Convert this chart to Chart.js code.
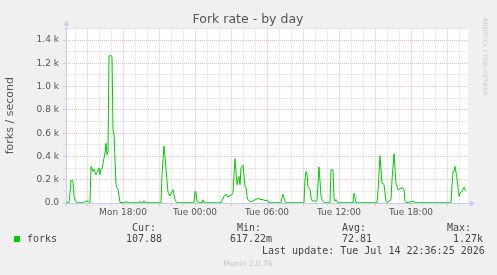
<!DOCTYPE html>
<html>
<head>
<meta charset="utf-8">
<script src="https://cdn.jsdelivr.net/npm/chart.js@4"></script>
<style>
  html, body { margin: 0; padding: 0; background: #f0f0f0; }
  #wrap { width: 497px; height: 275px; }
</style>
</head>
<body>
<div id="wrap"><canvas id="forkChart" width="497" height="275"></canvas></div>
<script>
// sample times: minutes since Mon 00:00, values: forks per second
const times = [
  795, 810, 815, 820, 830, 835, 840, 850, 885, 890, 905, 910, 915,
  920, 930, 935, 945, 950, 960, 965, 970, 975, 980, 990, 995, 1000, 1005, 1010, 1020, 1025, 1030, 1035, 1045, 1050, 1055, 1065,
  1090, 1095, 1100, 1160, 1165, 1170, 1180, 1185, 1190,
  1270, 1275, 1285, 1290, 1300, 1305, 1315, 1320, 1330, 1340, 1350,
  1435, 1440, 1445, 1450, 1475, 1480, 1485,
  1570, 1575, 1585, 1595, 1605, 1615, 1620, 1625, 1630, 1640, 1650, 1655, 1660, 1665, 1670, 1680, 1690, 1695, 1700, 1705, 1715, 1725,
  1755, 1765, 1775, 1795, 1800, 1805, 1815, 1870, 1875, 1880, 1890, 1895,
  1985, 1990, 1995, 2000, 2005, 2015, 2020, 2025, 2045, 2050, 2060, 2070, 2075, 2080, 2090, 2115, 2120, 2130, 2135, 2140, 2145, 2155, 2230, 2235, 2240, 2245,
  2350, 2355, 2365, 2375, 2385, 2395, 2400, 2410, 2420, 2425, 2435, 2445, 2450, 2455, 2465, 2470, 2480, 2485, 2490, 2495, 2535, 2540,
  2720, 2725, 2730, 2735, 2740, 2750, 2760, 2765, 2775, 2785, 2790, 2795
];
const forks = [
  2, 2, 90, 195, 190, 60, 25, 2, 2, 15, 15, 5, 5,
  314, 270, 290, 243, 260, 300, 245, 290, 300, 340, 430, 514, 414, 440, 1265, 1265, 1260, 630, 590, 160, 130, 120, 5,
  2, 15, 2, 2, 15, 2, 2, 20, 2,
  2, 250, 490, 400, 190, 90, 60, 80, 114, 25, 2,
  2, 100, 95, 10, 2, 28, 2,
  2, 20, 57, 77, 50, 70, 63, 75, 90, 380, 157, 200, 228, 157, 300, 325, 142, 135, 60, 28, 10, 15,
  40, 30, 30, 20, 28, 10, 2, 2, 50, 75, 10, 2,
  2, 200, 270, 250, 143, 114, 50, 20, 15, 20, 310, 60, 30, 15, 2, 2, 285, 285, 40, 15, 30, 2, 2, 85, 50, 2,
  2, 100, 405, 171, 160, 15, 2, 15, 28, 200, 423, 170, 143, 114, 120, 128, 130, 114, 15, 2, 15, 2,
  2, 150, 270, 270, 314, 213, 57, 85, 100, 137, 114, 108
];

// x axis labels (minutes since Mon 00:00)
const labelMinutes = [1080, 1440, 1800, 2160, 2520];
const labelTexts = ['Mon 18:00', 'Tue 00:00', 'Tue 06:00', 'Tue 12:00', 'Tue 18:00'];

// legend / stats
const statHeads = ['Cur:', 'Min:', 'Avg:', 'Max:'];
const statValues = ['107.88', '617.22m', '72.81', '1.27k'];
const lastUpdate = 'Last update: Tue Jul 14 22:36:25 2026';
const chartTitle = 'Fork rate - by day';

const hourTicks = [];
for (let m = 840; m <= 2760; m += 60) hourTicks.push(m);

const axisColor = '#c4ccf2';
const majorGrid = '#eebaba';
const minorGrid = '#dadada';

const munin = {
  id: 'munin',
  beforeDraw(chart) {
    const c = chart.ctx, a = chart.chartArea;
    c.save();
    c.fillStyle = '#f0f0f0';
    c.fillRect(0, 0, chart.width, chart.height);
    c.fillStyle = '#ffffff';
    c.fillRect(a.left, a.top, a.right - a.left, a.bottom - a.top);
    c.restore();
  },
  beforeDatasetsDraw(chart) {
    const c = chart.ctx, a = chart.chartArea;
    const x0 = Math.round(a.left) + 0.5, y0 = Math.round(a.bottom) + 0.5;
    c.save();
    c.strokeStyle = axisColor;
    c.fillStyle = axisColor;
    c.lineWidth = 1;
    c.beginPath();
    c.moveTo(x0, y0 + 3); c.lineTo(x0, a.top - 4);
    c.moveTo(x0 - 3, y0); c.lineTo(a.right + 3, y0);
    c.stroke();
    // arrows
    c.beginPath();
    c.moveTo(x0 - 3, a.top - 3); c.lineTo(x0 + 3, a.top - 3); c.lineTo(x0, a.top - 8); c.closePath();
    c.fill();
    c.beginPath();
    c.moveTo(a.right + 2, y0 - 3); c.lineTo(a.right + 2, y0 + 3); c.lineTo(a.right + 7, y0); c.closePath();
    c.fill();
    c.restore();
  },
  afterDraw(chart) {
    const c = chart.ctx;
    c.save();
    c.textBaseline = 'middle';
    c.fillStyle = '#555';
    c.textAlign = 'center';
    c.font = '12.5px "DejaVu Sans"';
    c.fillText(chartTitle, 248, 19.5);
    c.textAlign = 'left';
    c.fillStyle = '#444';
    c.font = '10px "DejaVu Sans Mono"';
    const headX = [132, 237, 342, 447];
    const valX = [126, 230, 342, 453];
    statHeads.forEach((t, i) => c.fillText(t, headX[i], 228.5));
    c.fillText('forks', 27, 239.5);
    statValues.forEach((t, i) => c.fillText(t, valX[i], 239.5));
    c.fillText(lastUpdate, 262, 251);
    c.fillStyle = '#00cc00';
    c.fillRect(14, 236, 6, 6);
    c.fillStyle = '#c6c6c6';
    c.font = '7.5px "DejaVu Sans"';
    c.textAlign = 'center';
    c.fillText('Munin 2.0.76', 248, 264.5);
    // vertical credit
    c.translate(485, 57);
    c.rotate(Math.PI / 2);
    c.font = '6px "DejaVu Sans"';
    c.fillStyle = '#cccccc';
    c.fillText('RRDTOOL / TOBI OETIKER', 0, 0);
    c.restore();
  }
};

const ctx = document.getElementById('forkChart').getContext('2d');
new Chart(ctx, {
  type: 'line',
  data: {
    datasets: [{
      data: times.map((t, i) => ({ x: t, y: forks[i] })),
      borderColor: '#00cc00',
      borderWidth: 1,
      pointRadius: 0,
      tension: 0,
      fill: false
    }]
  },
  options: {
    responsive: false,
    animation: false,
    layout: { padding: { top: 28.4, right: 29, bottom: 0, left: 0 } },
    plugins: {
      legend: { display: false },
      tooltip: { enabled: false },
      title: { display: false }
    },
    scales: {
      x: {
        type: 'linear',
        min: 795,
        max: 2805,
        afterBuildTicks: s => { s.ticks = hourTicks.map(v => ({ value: v })); },
        afterFit: s => { s.height = 72; },
        ticks: {
          autoSkip: false,
          maxRotation: 0,
          padding: 1,
          color: '#555',
          font: { family: 'DejaVu Sans', size: 9 },
          callback: v => {
            const i = labelMinutes.indexOf(v);
            return i < 0 ? '' : labelTexts[i];
          }
        },
        grid: {
          color: c => (c.tick && c.tick.value % 180 === 0) ? majorGrid : minorGrid,
          lineWidth: 1,
          tickLength: 3
        },
        border: { display: false, dash: [1, 1] }
      },
      y: {
        min: 0,
        max: 1500,
        afterFit: s => { s.width = 66; },
        ticks: {
          stepSize: 100,
          autoSkip: false,
          padding: 4,
          color: '#555',
          font: { family: 'DejaVu Sans', size: 9 },
          callback: v => {
            if (v % 200 !== 0) return '';
            return v === 0 ? '0.0' : (v / 1000).toFixed(1) + ' k';
          }
        },
        title: {
          display: true,
          text: 'forks / second',
          color: '#555',
          font: { family: 'DejaVu Sans', size: 11 },
          padding: { top: 4, bottom: 0 }
        },
        grid: {
          color: c => (c.tick && c.tick.value % 200 === 0) ? majorGrid : minorGrid,
          lineWidth: 1,
          tickLength: 3
        },
        border: { display: false, dash: [1, 1] }
      }
    }
  },
  plugins: [munin]
});
</script>
</body>
</html>
